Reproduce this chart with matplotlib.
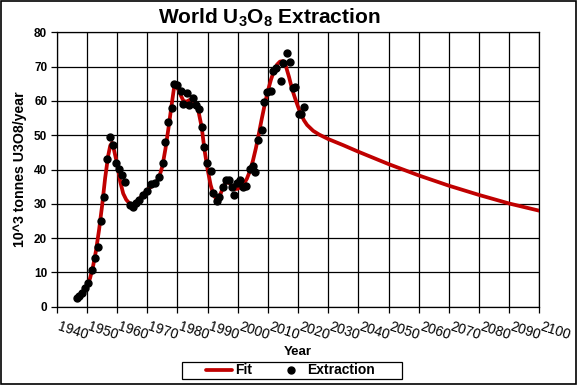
import matplotlib
matplotlib.use("Agg")
import matplotlib.pyplot as plt
import matplotlib.transforms as mtransforms
from matplotlib.patches import Rectangle

plt.rcParams["font.family"] = ["Liberation Sans", "DejaVu Sans"]
plt.rcParams["mathtext.default"] = "regular"

# --- data ---
# extraction points (year, 10^3 t U3O8/yr)
ext_years = [1946.6, 1947.4, 1948.2, 1949.3, 1950.4, 1951.5, 1952.6, 1953.7, 1954.6, 1955.6,
             1956.7, 1957.6, 1958.5, 1959.6, 1960.7, 1961.5, 1962.6, 1964.2, 1965.1, 1966.2,
             1967.3, 1968.7, 1969.8, 1971.2, 1972.7, 1974.0, 1975.1, 1976.0, 1977.0, 1978.1,
             1978.8, 1979.9, 1981.1, 1981.9, 1983.1, 1983.9, 1985.0, 1986.1, 1987.2, 1988.0,
             1988.8, 1989.9, 1991.0, 1991.9, 1993.0, 1993.9, 1995.0, 1996.2, 1997.2, 1998.0,
             1998.8, 1999.7, 2000.9, 2001.8, 2002.8, 2004.0, 2005.0, 2005.8, 2006.8, 2007.9,
             2008.7, 2009.8, 2010.9, 2011.8, 2012.7, 2014.2, 2015.1, 2016.2, 2017.3, 2018.2,
             2019.0, 2020.4, 2021.0, 2022.0]
ext_values = [2.6, 3.2, 3.9, 5.4, 6.8, 10.7, 14.1, 17.5, 25.0, 32.1,
              43.0, 49.4, 47.1, 41.8, 40.3, 38.4, 36.4, 29.7, 29.0, 30.1,
              31.1, 32.6, 33.7, 35.9, 36.0, 37.7, 41.8, 47.9, 53.8, 58.0,
              64.9, 64.6, 62.9, 59.1, 62.2, 58.8, 60.8, 58.8, 57.8, 52.3,
              46.6, 42.0, 39.6, 33.2, 30.9, 32.1, 34.8, 36.9, 36.9, 35.0,
              32.6, 36.0, 36.9, 35.0, 35.1, 40.1, 40.9, 39.4, 48.6, 51.5,
              59.6, 62.7, 62.9, 68.8, 69.7, 65.9, 71.0, 74.1, 71.3, 63.7,
              64.1, 56.2, 56.2, 58.1]

# fitted curve
fit_years = [1946.5, 1948, 1949, 1950, 1951, 1952, 1953, 1954, 1955, 1956,
             1957, 1957.7, 1958.3, 1959, 1960, 1961, 1962, 1963, 1964, 1965,
             1966, 1967, 1968, 1969, 1970, 1971, 1972, 1973, 1974, 1975,
             1976, 1977, 1978, 1978.8, 1979.3, 1980, 1981, 1982, 1983, 1984,
             1985, 1986, 1987, 1988, 1989, 1990, 1991, 1992, 1993, 1994,
             1995, 1996, 1997, 1998, 1999, 2000, 2001, 2002, 2003, 2004,
             2005, 2006, 2007, 2008, 2009, 2010, 2011, 2012, 2013, 2014,
             2015, 2016, 2017, 2018, 2019, 2020, 2021, 2022, 2023, 2025,
             2027, 2030, 2035, 2040, 2050, 2060, 2070, 2080, 2090, 2100]
fit_values = [2.3, 3.4, 4.5, 6.0, 8.3, 11.8, 16.5, 22.5, 29.5, 37.5,
              44.0, 47.0, 47.8, 45.5, 41.5, 36.5, 33.0, 31.2, 30.2, 29.8,
              30.2, 31.0, 32.1, 33.1, 34.0, 34.8, 35.5, 36.4, 38.0, 41.0,
              46.0, 52.0, 58.5, 63.5, 64.8, 64.0, 61.8, 60.0, 59.8, 60.3,
              60.2, 59.2, 56.8, 52.5, 45.5, 40.0, 35.5, 32.5, 31.3, 32.3,
              34.5, 36.2, 36.3, 35.2, 34.3, 34.4, 35.0, 35.8, 37.3, 39.5,
              42.5, 46.2, 50.5, 55.0, 59.2, 63.0, 66.2, 68.8, 70.6, 71.5,
              71.6, 70.0, 67.0, 63.5, 60.8, 58.3, 56.0, 54.3, 53.0, 51.3,
              50.2, 48.9, 47.1, 45.2, 41.6, 38.3, 35.3, 32.6, 30.1, 28.0]

xticks = list(range(1940, 2101, 10))
yticks = list(range(0, 81, 10))

# --- figure ---
fig = plt.figure(figsize=(5.77, 3.85), dpi=100)
ax = fig.add_axes([0.0986, 0.2034, 0.836, 0.7124])

ax.plot(fit_years, fit_values, color="#C00000", lw=2.7, label="Fit", zorder=3,
        solid_capstyle="round", solid_joinstyle="round")
ax.plot(ext_years, ext_values, "o", color="black", ms=5, label="Extraction", zorder=4)

ax.set_xlim(1940, 2100)
ax.set_ylim(0, 80)
ax.set_xticks(xticks)
ax.set_yticks(yticks)
ax.grid(True, color="black", lw=0.9)
ax.set_axisbelow(True)
for s in ax.spines.values():
    s.set_color("black")
    s.set_linewidth(0.9)
ax.tick_params(direction="out", length=4, width=0.9, color="black")

ax.set_yticklabels([str(v) for v in yticks], fontsize=8.5, fontweight="bold")
ax.tick_params(axis="y", pad=3)
ax.set_xticklabels([str(v) for v in xticks], fontsize=10, rotation=-18,
                   ha="left", va="top", rotation_mode="anchor")
ax.tick_params(axis="x", pad=5)
# nudge the slanted labels so they start at their tick
shift = mtransforms.ScaledTranslation(3.5 / 100, 0, fig.dpi_scale_trans)
for lbl in ax.get_xticklabels():
    lbl.set_transform(lbl.get_transform() + shift)

ax.set_xlabel("Year", fontsize=9.5, fontweight="bold", labelpad=3)
ax.set_ylabel("10^3 tonnes U3O8/year", fontsize=10.2, fontweight="bold", labelpad=5)

fig.text(0.466, 0.953, r"World U$_\mathregular{3}$O$_\mathregular{8}$ Extraction",
         ha="center", va="center", fontsize=15, fontweight="bold")

leg = ax.legend(loc="center", bbox_to_anchor=(0.4838, -0.2326), ncol=2, frameon=False,
                fontsize=10, handlelength=1.9, columnspacing=1.9,
                borderpad=0.0, handletextpad=0.2, borderaxespad=0)
for t in leg.get_texts():
    t.set_fontweight("bold")
# legend box, wider than the entries like the Excel one
fig.patches.append(Rectangle((182.3 / 577, 1 - 379.3 / 385), 220 / 577, 17.6 / 385,
                             transform=fig.transFigure, fill=False,
                             edgecolor="black", lw=0.9))

# chart border
fig.patches.append(Rectangle((0.002, 0.003), 0.996, 0.994, transform=fig.transFigure,
                             fill=False, edgecolor="black", lw=1.2))

fig.savefig("out.png", dpi=100)
